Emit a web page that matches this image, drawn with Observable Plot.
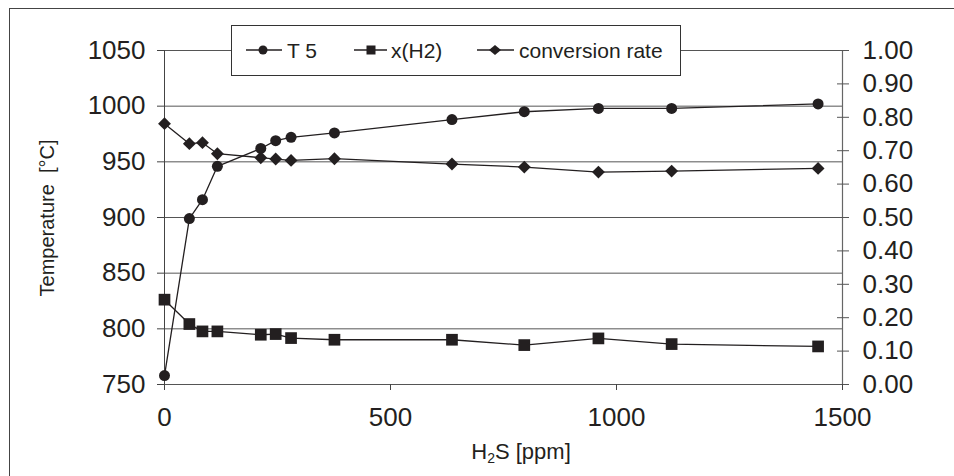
<!DOCTYPE html>
<html>
<head>
<meta charset="utf-8">
<script src="https://cdn.jsdelivr.net/npm/d3@7"></script>
<script src="https://cdn.jsdelivr.net/npm/@observablehq/plot@0.6"></script>
<style>
  html, body { margin: 0; padding: 0; background: #fff; }
  body { width: 954px; height: 476px; position: relative; overflow: hidden; font-family: "Liberation Sans", Arial, sans-serif; color: #231f20; }
  #frame { position: absolute; left: 9px; top: 8px; width: 1000px; height: 1000px; border-left: 1px solid #444; border-top: 1px solid #444; }
  #chart { position: absolute; left: 0; top: 0; }
  #chart svg g[aria-label="y-axis tick label"] text,
  #chart svg g[aria-label="x-axis tick label"] text { font-size: 26px; }
  #legend { position: absolute; left: 231px; top: 25px; width: 448px; height: 49px; border: 1px solid #333; background: #fff; }
  .lt { position: absolute; font-size: 21px; line-height: 24px; top: 13px; white-space: pre; }
  #ytitle { position: absolute; left: 47px; top: 218px; transform: translate(-50%, -50%) rotate(-90deg); font-size: 20px; white-space: pre; }
  #xtitle { position: absolute; left: 521px; top: 452px; transform: translate(-50%, -50%); font-size: 22px; white-space: pre; }
  #xtitle sub { font-size: 14px; vertical-align: -4px; line-height: 0; }
</style>
</head>
<body>
<div id="frame"></div>
<div id="chart"></div>
<div id="legend"></div>
<div id="ytitle">Temperature  [°C]</div>
<div id="xtitle">H<sub>2</sub>S [ppm]</div>
<script>
// ---- data ----
const ppm = [0, 55, 84, 117, 213, 246, 280, 376, 636, 796, 960, 1122, 1446];
const t5 = [758, 899, 916, 946, 962, 969, 972, 976, 988, 995, 998, 998, 1002];
const xH2 = [0.254, 0.181, 0.159, 0.159, 0.149, 0.151, 0.139, 0.134, 0.134, 0.118, 0.138, 0.121, 0.114];
const conv = [0.781, 0.721, 0.724, 0.691, 0.679, 0.675, 0.671, 0.676, 0.660, 0.651, 0.636, 0.639, 0.647];
const leftTicks = [750, 800, 850, 900, 950, 1000, 1050];
const rightTicks = [0, 0.1, 0.2, 0.3, 0.4, 0.5, 0.6, 0.7, 0.8, 0.9, 1.0];
const xTicks = [0, 500, 1000, 1500];
const seriesNames = ["T 5", "x(H2)", "conversion rate"];

// ---- build ----
const ink = "#231f20";
const yMin = 750, yMax = 1050;
const toLeft = v => yMin + v * (yMax - yMin);
const fromLeft = d => (d - yMin) / (yMax - yMin);
const plain = d => String(d);

const t5Data = ppm.map((x, i) => ({x, y: t5[i]}));
const h2Data = ppm.map((x, i) => ({x, y: toLeft(xH2[i])}));
const convData = ppm.map((x, i) => ({x, y: toLeft(conv[i])}));

const chart = Plot.plot({
  width: 954,
  height: 476,
  marginLeft: 164,
  marginRight: 112,
  marginTop: 50,
  marginBottom: 92,
  x: {domain: [0, 1500]},
  y: {domain: [yMin, yMax]},
  style: {fontFamily: '"Liberation Sans", Arial, sans-serif', fontSize: "26px", color: ink, background: "transparent", overflow: "visible"},
  marks: [
    Plot.gridY({ticks: leftTicks.slice(1), stroke: "#555", strokeOpacity: 1, strokeWidth: 1}),
    Plot.ruleY([yMin], {stroke: "#555", strokeWidth: 1}),
    Plot.ruleX([0], {stroke: "#444", strokeWidth: 1}),
    Plot.ruleX([1500], {stroke: "#666", strokeWidth: 1.2}),
    Plot.axisY({anchor: "left", ticks: leftTicks, tickSize: 7, tickPadding: 12, fontSize: 26, label: null, stroke: "#444", tickFormat: plain}),
    Plot.axisY({anchor: "right", ticks: rightTicks.map(toLeft), tickSize: 6, tickPadding: 14, fontSize: 26, label: null,
      tickFormat: d => fromLeft(d).toFixed(2), stroke: "#555"}),
    Plot.axisY({anchor: "right", ticks: rightTicks.map(toLeft), tickSize: 6, dx: -6, label: null,
      tickFormat: () => "", stroke: "#555"}),
    Plot.axisX({ticks: xTicks, tickSize: 6, tickPadding: 17, fontSize: 26, label: null, stroke: "#444", tickFormat: plain}),
    Plot.line(h2Data, {x: "x", y: "y", stroke: ink, strokeWidth: 1.3}),
    Plot.line(convData, {x: "x", y: "y", stroke: ink, strokeWidth: 1.3}),
    Plot.line(t5Data, {x: "x", y: "y", stroke: ink, strokeWidth: 1.3}),
    Plot.dot(h2Data, {x: "x", y: "y", symbol: "square", r: 6.6, fill: ink, stroke: "none"}),
    Plot.dot(convData, {x: "x", y: "y", symbol: "diamond2", r: 5.8, fill: ink, stroke: "none"}),
    Plot.dot(t5Data, {x: "x", y: "y", symbol: "circle", r: 5.5, fill: ink, stroke: "none"})
  ]
});
document.getElementById("chart").appendChild(chart);

// legend (positions relative to legend box inner origin at 232, 26)
const legend = document.getElementById("legend");
const ox = 232, oy = 26;
const items = [
  {name: seriesNames[0], x1: 246, x2: 282, mx: 263, tx: 287, sym: "circle"},
  {name: seriesNames[1], x1: 354, x2: 387, mx: 371, tx: 391, sym: "square"},
  {name: seriesNames[2], x1: 477, x2: 514, mx: 495, tx: 519, sym: "diamond"}
];
const svgNS = "http://www.w3.org/2000/svg";
const lsvg = document.createElementNS(svgNS, "svg");
lsvg.setAttribute("width", 448);
lsvg.setAttribute("height", 49);
lsvg.style.position = "absolute";
lsvg.style.left = "0";
lsvg.style.top = "0";
legend.appendChild(lsvg);
const cy = 50 - oy;
for (const it of items) {
  const ln = document.createElementNS(svgNS, "line");
  ln.setAttribute("x1", it.x1 - ox); ln.setAttribute("x2", it.x2 - ox);
  ln.setAttribute("y1", cy); ln.setAttribute("y2", cy);
  ln.setAttribute("stroke", ink); ln.setAttribute("stroke-width", 1.3);
  lsvg.appendChild(ln);
  const mx = it.mx - ox;
  let m;
  if (it.sym === "circle") {
    m = document.createElementNS(svgNS, "circle");
    m.setAttribute("cx", mx); m.setAttribute("cy", cy); m.setAttribute("r", 4.5);
  } else if (it.sym === "square") {
    m = document.createElementNS(svgNS, "rect");
    m.setAttribute("x", mx - 4.5); m.setAttribute("y", cy - 4.5);
    m.setAttribute("width", 9); m.setAttribute("height", 9);
  } else {
    m = document.createElementNS(svgNS, "path");
    m.setAttribute("d", `M${mx},${cy - 5}L${mx + 6},${cy}L${mx},${cy + 5}L${mx - 6},${cy}Z`);
  }
  m.setAttribute("fill", ink);
  lsvg.appendChild(m);
  const t = document.createElement("span");
  t.className = "lt";
  t.textContent = it.name;
  t.style.left = (it.tx - ox) + "px";
  legend.appendChild(t);
}
</script>
</body>
</html>
